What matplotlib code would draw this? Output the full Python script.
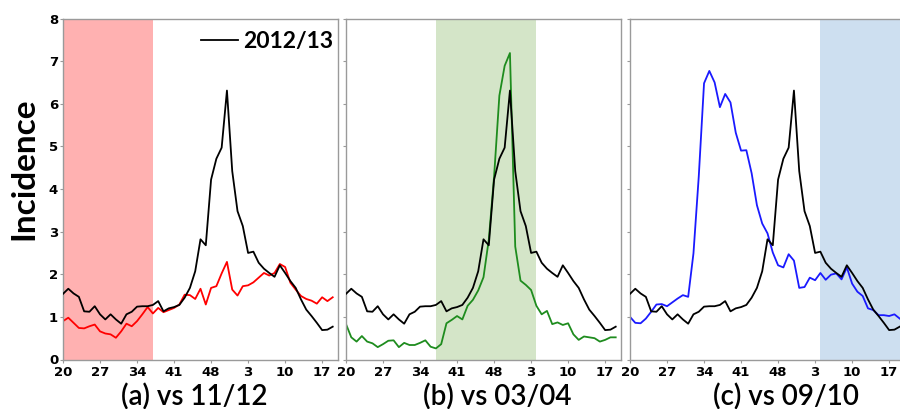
import matplotlib
matplotlib.use("Agg")
import matplotlib.pyplot as plt

# Weekly incidence, season week 20 through week 19 of the next year
week_labels = ["20", "27", "34", "41", "48", "3", "10", "17"]
tick_index = [0, 7, 14, 21, 28, 35, 42, 49]

season_1213 = [1.54, 1.66, 1.55, 1.47, 1.13, 1.12, 1.25, 1.06, 0.94, 1.06,
               0.94, 0.84, 1.06, 1.12, 1.24, 1.25, 1.25, 1.28, 1.37, 1.13,
               1.20, 1.23, 1.28, 1.45, 1.68, 2.07, 2.82, 2.68, 4.22, 4.71,
               4.97, 6.31, 4.42, 3.48, 3.13, 2.50, 2.53, 2.27, 2.13, 2.03,
               1.94, 2.21, 2.03, 1.84, 1.68, 1.41, 1.17, 1.02, 0.86, 0.69,
               0.70, 0.77]

season_1112 = [0.90, 0.98, 0.86, 0.74, 0.73, 0.78, 0.82, 0.66, 0.61, 0.59,
               0.51, 0.66, 0.84, 0.78, 0.90, 1.06, 1.23, 1.08, 1.21, 1.11,
               1.16, 1.21, 1.29, 1.52, 1.51, 1.42, 1.66, 1.29, 1.68, 1.72,
               2.02, 2.29, 1.64, 1.50, 1.72, 1.74, 1.81, 1.92, 2.03, 1.97,
               2.03, 2.24, 2.17, 1.80, 1.64, 1.49, 1.42, 1.38, 1.31, 1.46,
               1.37, 1.46]

season_0304 = [0.83, 0.52, 0.42, 0.55, 0.42, 0.38, 0.29, 0.36, 0.44, 0.45,
               0.29, 0.39, 0.34, 0.34, 0.39, 0.45, 0.30, 0.26, 0.36, 0.85,
               0.93, 1.02, 0.94, 1.26, 1.40, 1.62, 1.93, 2.81, 4.29, 6.19,
               6.89, 7.19, 2.65, 1.85, 1.75, 1.63, 1.26, 1.06, 1.14, 0.83,
               0.87, 0.81, 0.85, 0.59, 0.46, 0.54, 0.52, 0.50, 0.42, 0.46,
               0.52, 0.52]

season_0910 = [1.00, 0.86, 0.85, 0.96, 1.12, 1.29, 1.30, 1.25, 1.34, 1.43,
               1.51, 1.47, 2.49, 4.29, 6.48, 6.77, 6.50, 5.92, 6.23, 6.03,
               5.32, 4.90, 4.91, 4.37, 3.62, 3.19, 2.96, 2.51, 2.21, 2.16,
               2.47, 2.32, 1.68, 1.70, 1.92, 1.86, 2.03, 1.87, 1.99, 2.02,
               1.88, 2.16, 1.78, 1.59, 1.49, 1.20, 1.16, 1.04, 1.04, 1.02,
               1.06, 0.96]

panel_titles = ["(a) vs 11/12", "(b) vs 03/04", "(c) vs 09/10"]
compare = [season_1112, season_0304, season_0910]
line_colors = ["#ff0000", "#1e8c1e", "#1a1aff"]
span_colors = ["#ffb1b1", "#d4e5c8", "#cddff0"]
span_ranges = [(0, 17), (17, 36), (36, 52)]

W, H = 900, 409
fig = plt.figure(figsize=(W / 100, H / 100), dpi=100)

label_font = "Lato"
lefts = [63, 346, 630]
top_px, bottom_px, width_px = 18.5, 359.5, 275
title_x = [194, 497, 786]

x = list(range(len(season_1213)))
spine_gray = "#9a9a9a"

for i in range(3):
    ax = fig.add_axes([lefts[i] / W, (H - bottom_px) / H,
                       width_px / W, (bottom_px - top_px) / H])
    ax.axvspan(*span_ranges[i], color=span_colors[i], lw=0, zorder=0)
    ax.plot(x, compare[i], color=line_colors[i], lw=1.3, zorder=2)
    ax.plot(x, season_1213, color="black", lw=1.3, zorder=3,
            label="2012/13")
    ax.set_xlim(0, 52)
    ax.set_ylim(0, 8)
    ax.set_xticks(tick_index)
    ax.set_xticklabels(week_labels, fontsize=9.5, fontweight="bold")
    ax.set_yticks(range(0, 9))
    if i == 0:
        ax.set_yticklabels([str(v) for v in range(0, 9)], fontsize=9.5,
                           fontweight="bold")
    else:
        ax.set_yticklabels([])
    ax.tick_params(axis="both", length=2, width=0.8, color=spine_gray,
                   pad=1.5)
    ax.tick_params(axis="x", pad=2.5)
    for s in ax.spines.values():
        s.set_color(spine_gray)
        s.set_linewidth(1.0)
    fig.text(title_x[i] / W, 1 - 397 / H, panel_titles[i],
             fontsize=20, family=label_font, fontweight="semibold",
             ha="center", va="center")
    if i == 0:
        ax.legend(loc="upper right", frameon=False,
                  bbox_to_anchor=(1.0, 0.978), borderaxespad=0.0,
                  borderpad=0.2, handlelength=1.6, handletextpad=0.25,
                  prop={"family": label_font, "weight": "bold",
                        "size": 16.5})

fig.text(24 / W, 1 - 169 / H, "Incidence", rotation=90, fontsize=24,
         fontweight="bold", family=label_font, ha="center", va="center")

fig.savefig("out.png", dpi=100)
